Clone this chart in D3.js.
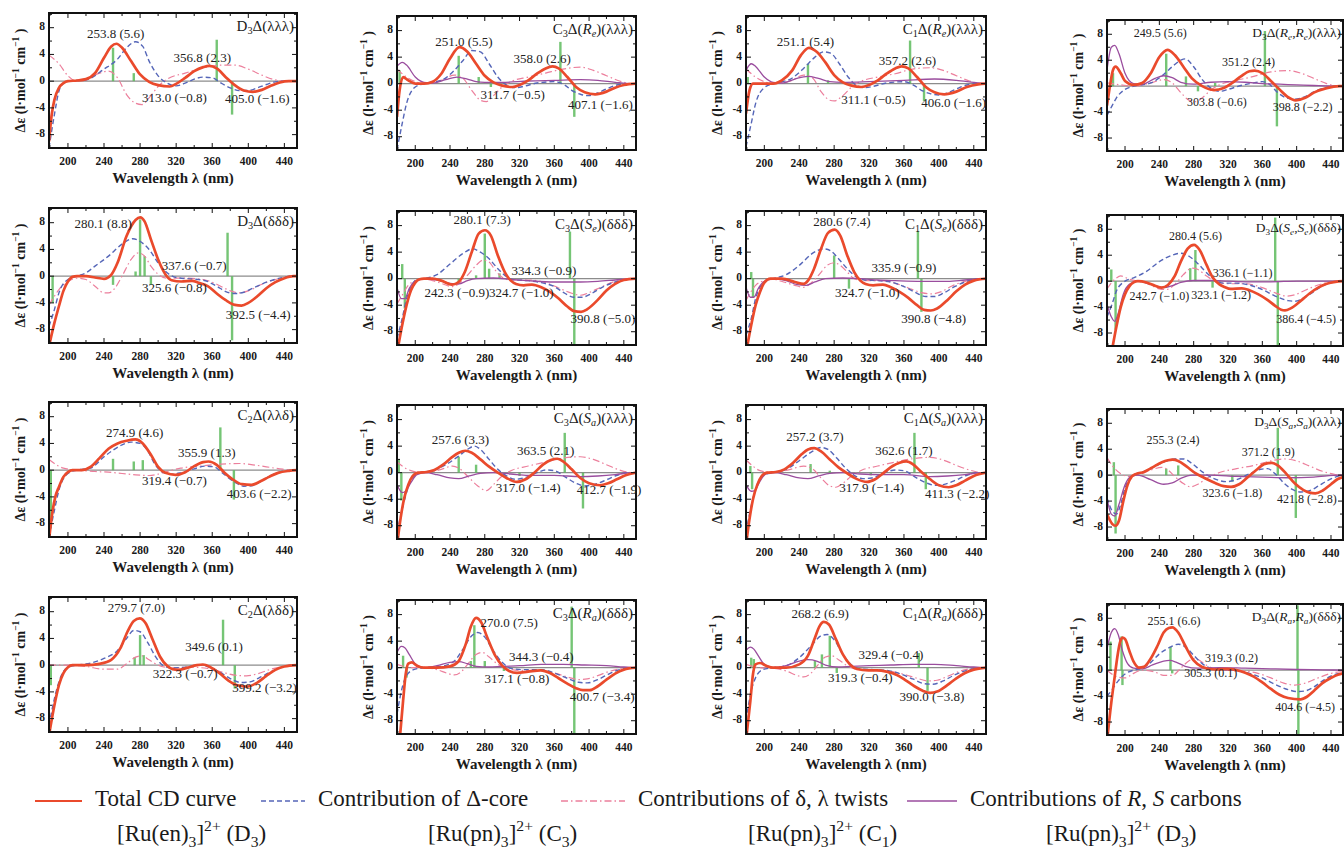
<!DOCTYPE html>
<html>
<head>
<meta charset="utf-8">
<script src="https://cdn.jsdelivr.net/npm/d3@7"></script>
<style>
  body { margin: 0; background: #fff; }
  svg { display: block; }
</style>
</head>
<body>
<div id="chart"></div>
<script>
(() => {
  // panels are read row by row, four columns per row
  const panelTitles = [
    'D_3Δ(λλλ)', 'C_3Δ(R_e)(λλλ)', 'C_1Δ(R_e)(λλλ)', 'D_3Δ(R_e,R_e)(λλλ)',
    'D_3Δ(δδδ)', 'C_3Δ(S_e)(δδδ)', 'C_1Δ(S_e)(δδδ)', 'D_3Δ(S_e,S_e)(δδδ)',
    'C_2Δ(λλδ)', 'C_3Δ(S_a)(λλλ)', 'C_1Δ(S_a)(λλλ)', 'D_3Δ(S_a,S_a)(λλλ)',
    'C_2Δ(λδδ)', 'C_3Δ(R_a)(δδδ)', 'C_1Δ(R_a)(δδδ)', 'D_3Δ(R_a,R_a)(δδδ)'
  ]

  // total CD curve, [wavelength nm, Δε]
  const totalCD = [
    [[179,-9],[182,-5],[185,-2.8],[190,-1],[195,-0.3],[200,0],[210,0.1],[220,0.3],[230,1.2],[240,3.5],[248,5.2],[253.8,5.6],[260,5.0],[270,3.0],[280,1.0],[290,-0.1],[300,-0.6],[313,-0.8],[320,-0.4],[330,0.5],[340,1.5],[350,2.1],[356.8,2.3],[365,1.9],[375,0.6],[385,-0.6],[395,-1.4],[405,-1.6],[415,-1.3],[425,-0.7],[435,-0.2],[445,0],[454,0]],
    [[179,-5],[182,-1],[186,1.0],[192,0.5],[200,0],[210,0],[220,0.3],[230,1.5],[240,3.8],[251,5.5],[260,4.8],[270,3.0],[280,1.2],[290,0.2],[300,-0.3],[311.7,-0.5],[320,-0.2],[330,0.5],[340,1.5],[350,2.3],[358,2.6],[365,2.3],[375,1.0],[385,-0.5],[395,-1.3],[407.1,-1.6],[420,-1.2],[430,-0.6],[440,-0.2],[454,0]],
    [[179,-4.5],[183,-1],[187,0],[200,0],[210,0],[220,0.5],[232,2.0],[242,4.3],[251.1,5.4],[260,4.8],[270,3.2],[280,1.3],[290,0.2],[300,-0.3],[311.1,-0.5],[320,-0.2],[330,0.5],[340,1.5],[350,2.3],[357.2,2.6],[365,2.3],[375,1.0],[385,-0.5],[395,-1.3],[406,-1.6],[420,-1.2],[432,-0.5],[445,-0.1],[454,0]],
    [[179,-3],[183,0.5],[186,2.5],[189,3.0],[195,2.0],[200,0.8],[210,0.2],[220,0.5],[230,2.0],[240,4.5],[249.5,5.6],[258,4.8],[268,3.0],[278,1.2],[290,0],[303.8,-0.6],[315,-0.3],[325,0.5],[335,1.5],[345,2.3],[351.2,2.4],[360,2.0],[370,0.8],[380,-0.5],[390,-1.7],[398.8,-2.2],[410,-1.8],[420,-1.0],[435,-0.3],[450,0],[454,0]],
    [[179,-10.5],[185,-7],[190,-4.5],[195,-2.2],[200,-0.8],[205,-0.1],[210,0],[220,0],[230,-0.2],[240,-0.4],[248,0.2],[255,2.0],[265,6.0],[275,8.4],[280.1,8.8],[285,8.2],[292,5.5],[300,2.5],[308,0.3],[315,-0.6],[325.6,-0.8],[337.6,-0.7],[345,-1.0],[355,-1.5],[365,-2.6],[375,-3.6],[385,-4.3],[392.5,-4.4],[400,-4.0],[410,-3.0],[420,-1.8],[430,-0.9],[440,-0.3],[450,0],[454,0]],
    [[180,-10.5],[185,-7],[190,-4],[195,-1.8],[200,-0.6],[205,-0.1],[210,0],[220,0],[230,-0.3],[242.3,-0.9],[250,-0.5],[257,1.0],[265,4.0],[273,6.8],[280.1,7.3],[287,6.5],[295,3.5],[303,1.0],[310,-0.3],[316,-0.8],[324.7,-1.0],[334.3,-0.9],[345,-1.3],[355,-2.0],[365,-3.0],[375,-4.2],[383,-4.9],[390.8,-5.0],[398,-4.6],[410,-3.2],[420,-1.8],[430,-0.8],[440,-0.2],[454,0]],
    [[180,-10.5],[185,-7],[190,-4],[195,-2],[200,-0.6],[207,0],[220,0],[235,-0.5],[245,-0.8],[250,-0.3],[257,1.5],[265,4.5],[273,6.9],[280.6,7.4],[287,6.5],[295,3.5],[303,1.0],[310,-0.3],[316,-0.8],[324.7,-1.0],[335.9,-0.9],[345,-1.3],[355,-2.0],[365,-2.9],[375,-4.0],[383,-4.7],[390.8,-4.8],[398,-4.5],[410,-3.2],[420,-1.9],[430,-0.9],[440,-0.3],[454,0]],
    [[185,-10.5],[190,-7],[195,-4],[200,-2],[205,-0.8],[210,-0.2],[215,0],[225,-0.2],[235,-0.7],[242.7,-1.0],[250,-0.6],[258,0.8],[265,3.0],[273,5.0],[280.4,5.6],[287,4.8],[295,2.5],[302,0.6],[310,-0.5],[316,-0.9],[323.1,-1.2],[336.1,-1.1],[345,-1.4],[355,-2.0],[365,-2.8],[375,-3.8],[382,-4.4],[386.4,-4.5],[393,-4.2],[405,-3.0],[415,-1.9],[425,-1.0],[435,-0.4],[445,-0.1],[454,0]],
    [[179,-10.5],[182,-7],[186,-4],[190,-2.5],[195,-1],[200,-0.3],[205,0],[215,0],[225,0.5],[235,1.8],[245,3.2],[255,4.0],[265,4.4],[274.9,4.6],[283,4.0],[292,2.3],[300,0.5],[308,-0.4],[319.4,-0.7],[330,-0.3],[340,0.6],[350,1.2],[355.9,1.3],[365,0.8],[373,-0.3],[383,-1.4],[393,-2.1],[403.6,-2.2],[413,-1.7],[423,-1.0],[433,-0.4],[445,-0.1],[454,0]],
    [[179,-11],[183,-7],[187,-4],[192,-1.8],[197,-0.5],[203,0],[213,0.1],[222,0.4],[232,1.2],[242,2.3],[250,3.0],[257.6,3.3],[265,3.0],[275,2.0],[285,0.9],[295,0],[305,-0.8],[317,-1.4],[327,-1.0],[337,0],[347,1.2],[356,1.9],[363.5,2.1],[370,1.7],[380,0.5],[390,-0.8],[400,-1.6],[412.7,-1.9],[422,-1.6],[432,-1.0],[442,-0.4],[454,0]],
    [[179,-11],[183,-7],[187,-4],[192,-1.8],[197,-0.5],[203,0],[213,0.1],[223,0.5],[233,1.5],[243,2.8],[250,3.5],[257.2,3.7],[265,3.2],[275,2.0],[285,0.8],[295,-0.1],[305,-0.9],[317.9,-1.4],[327,-1.0],[337,0],[347,1.0],[355,1.5],[362.6,1.7],[370,1.3],[380,0.1],[390,-1.0],[400,-1.9],[411.3,-2.2],[420,-1.9],[430,-1.2],[440,-0.5],[454,0]],
    [[179,-6],[185,-7.5],[189,-7.8],[193,-7],[198,-4],[203,-1.5],[208,-0.2],[213,0.2],[222,0.5],[232,1.2],[243,2.0],[250,2.3],[255.3,2.4],[262,2.2],[272,1.3],[282,0.3],[292,-0.4],[305,-1.2],[315,-1.7],[323.6,-1.8],[333,-1.4],[343,-0.3],[353,0.8],[362,1.7],[371.2,1.9],[378,1.5],[388,0.2],[398,-1.3],[408,-2.3],[415,-2.7],[421.8,-2.8],[430,-2.4],[440,-1.4],[448,-0.6],[454,-0.3]],
    [[179,-10.5],[185,-6],[190,-3],[195,-1.2],[200,-0.3],[205,0],[220,0],[235,0.2],[248,0.8],[258,2.5],[266,5.0],[273,6.6],[279.7,7.0],[286,6.3],[294,3.8],[302,1.3],[310,-0.1],[316,-0.6],[322.3,-0.7],[332,-0.4],[343,0],[349.6,0.1],[358,-0.3],[368,-1.2],[378,-2.3],[388,-3.0],[399.2,-3.2],[410,-2.6],[420,-1.6],[430,-0.7],[440,-0.2],[454,0]],
    [[182,-11],[186,-5],[189,-1],[192,0.6],[196,0.8],[202,0.3],[210,0],[225,0],[240,0.2],[250,1.0],[258,3.5],[264,6.2],[270,7.5],[276,6.8],[283,4.5],[292,1.8],[300,0.3],[308,-0.5],[317.1,-0.8],[330,-0.6],[344.3,-0.4],[355,-0.8],[365,-1.6],[375,-2.4],[385,-3.1],[393,-3.4],[400.7,-3.4],[410,-2.8],[420,-1.8],[430,-0.9],[440,-0.3],[454,0]],
    [[179,-11],[184,-5],[187,-1],[190,0.5],[195,0.7],[202,0.3],[210,0],[225,0],[240,0.5],[250,1.8],[258,4.5],[263,6.2],[268.2,6.9],[274,6.5],[282,4.3],[290,2.0],[298,0.5],[306,-0.2],[319.3,-0.4],[329.4,-0.4],[340,-0.6],[352,-1.1],[362,-1.9],[372,-2.8],[382,-3.5],[390,-3.8],[398,-3.6],[410,-2.6],[420,-1.6],[430,-0.8],[440,-0.3],[454,0]],
    [[179,-11],[184,-5],[188,-1],[191,2],[194,4.2],[197,5.0],[200,4.8],[205,3.0],[210,1.3],[216,0.4],[222,0.5],[230,1.8],[238,3.8],[245,5.8],[251,6.5],[255.1,6.6],[262,5.8],[270,3.8],[280,1.5],[290,0.5],[305.3,0.1],[319.3,0.2],[330,0],[340,-0.4],[350,-1.0],[360,-1.9],[370,-2.9],[380,-3.8],[390,-4.3],[404.6,-4.5],[412,-4.1],[420,-3.2],[430,-2.0],[440,-1.2],[448,-0.7],[454,-0.5]]
  ]

  // contribution of the Δ-core
  const coreCD = [
    [[179,-10],[185,-5],[190,-1.5],[195,-0.3],[200,0],[220,0.2],[240,1.8],[255,3.3],[265,5.0],[275,5.9],[283,5.2],[290,3.0],[300,0.8],[310,-0.3],[320,-0.7],[330,-0.3],[340,0.3],[350,0.6],[360,0.5],[370,-0.3],[380,-1.0],[390,-1.4],[400,-1.4],[410,-1.0],[420,-0.5],[430,-0.1],[440,0],[454,0]],
    [[179,-10],[185,-6],[190,-3],[200,-0.5],[210,0],[230,0.5],[245,2.0],[255,3.5],[265,5.0],[275,4.8],[285,3.0],[295,1.0],[305,-0.2],[315,-0.6],[325,-0.4],[340,0.1],[360,0.3],[372,-0.2],[380,-1.0],[390,-1.6],[400,-1.8],[410,-1.4],[420,-0.8],[432,-0.2],[445,0],[454,0]],
    [[179,-9.5],[185,-6],[190,-3],[200,-0.6],[210,0],[230,0.7],[245,2.3],[258,4.0],[268,4.8],[276,4.6],[286,3.0],[296,1.0],[305,-0.2],[315,-0.6],[325,-0.4],[340,0.1],[360,0.3],[372,-0.3],[380,-1.0],[390,-1.5],[400,-1.7],[410,-1.4],[420,-0.8],[432,-0.2],[445,0],[454,0]],
    [[179,-4.5],[185,-3],[190,-1.8],[200,-0.5],[210,0],[230,0.5],[245,1.8],[255,3.0],[265,4.0],[270,4.2],[280,3.0],[290,1.0],[300,-0.3],[310,-0.8],[320,-0.5],[335,0.1],[350,0.5],[360,0.7],[368,0.3],[378,-1.0],[388,-1.8],[398,-2.0],[410,-1.6],[420,-0.9],[432,-0.3],[445,0],[454,0]],
    [[179,-7.5],[185,-5],[190,-2.5],[200,-0.5],[210,0],[220,0.5],[230,1.5],[245,3.0],[260,4.8],[272,5.6],[280,5.2],[290,4.0],[300,2.0],[310,0.5],[320,-0.2],[335,-0.4],[350,-0.6],[365,-1.5],[375,-2.3],[385,-2.6],[395,-2.4],[405,-1.8],[420,-0.9],[435,-0.3],[450,0],[454,0]],
    [[179,-9],[185,-6],[190,-3],[195,-1.2],[200,-0.3],[210,0],[225,0.6],[240,2.2],[255,3.8],[266,4.5],[275,4.0],[285,3.0],[295,1.5],[305,0.3],[315,-0.2],[330,-0.3],[345,-0.6],[360,-1.2],[372,-2.2],[382,-2.8],[392,-2.8],[402,-2.3],[415,-1.3],[430,-0.5],[445,-0.1],[454,0]],
    [[179,-8.5],[185,-6],[190,-3],[200,-0.5],[210,0],[225,0.6],[240,2.0],[255,3.8],[268,4.5],[276,4.2],[285,3.0],[295,1.5],[305,0.3],[315,-0.2],[330,-0.3],[345,-0.5],[360,-1.2],[372,-2.0],[385,-2.7],[395,-2.7],[405,-2.2],[418,-1.2],[432,-0.4],[445,0],[454,0]],
    [[179,-5.5],[185,-3.5],[190,-1.5],[200,0],[210,0.5],[225,1.5],[240,3.0],[255,4.0],[265,4.3],[275,3.8],[285,2.7],[295,1.3],[305,0.2],[315,-0.3],[330,-0.3],[345,-0.6],[360,-1.3],[375,-2.3],[390,-3.0],[398,-3.1],[408,-2.6],[420,-1.6],[432,-0.6],[445,-0.1],[454,0]],
    [[179,-10],[185,-6],[190,-3],[200,-0.5],[210,0],[225,0.3],[240,2.0],[250,3.0],[260,3.8],[270,4.2],[280,4.0],[288,3.0],[296,1.0],[305,-0.3],[315,-0.6],[325,-0.4],[340,0.2],[352,0.6],[362,0.5],[372,-0.5],[385,-1.8],[395,-2.4],[405,-2.3],[415,-1.6],[425,-0.8],[437,-0.2],[450,0],[454,0]],
    [[179,-9],[185,-5.5],[190,-3],[195,-1.2],[205,0],[220,0.3],[235,1.2],[250,2.5],[260,3.5],[268,4.0],[275,3.5],[285,2.0],[295,0.5],[305,-0.5],[315,-1.0],[325,-0.8],[340,0],[350,0.4],[360,0.3],[372,-0.6],[385,-1.6],[395,-2.0],[405,-1.8],[418,-1.2],[430,-0.5],[445,0],[454,0]],
    [[179,-9],[185,-5],[190,-2.5],[200,-0.3],[210,0],[225,0.5],[240,1.8],[255,3.2],[265,3.8],[273,3.5],[283,2.2],[293,0.7],[303,-0.4],[313,-0.9],[323,-0.8],[338,0],[350,0.4],[360,0.3],[372,-0.6],[385,-1.5],[395,-1.9],[405,-1.8],[418,-1.2],[430,-0.5],[445,0],[454,0]],
    [[179,-3.5],[185,-5.5],[190,-6],[195,-4.5],[200,-2],[207,-0.3],[215,0.2],[230,1.0],[245,2.0],[258,2.5],[268,2.5],[278,1.8],[290,0.5],[303,-0.5],[318,-1.0],[330,-0.7],[345,0.2],[358,0.9],[366,1.0],[375,0.2],[385,-1.2],[395,-2.2],[405,-2.6],[415,-2.4],[425,-1.7],[435,-0.9],[445,-0.3],[454,0]],
    [[179,-9],[185,-5],[190,-2.5],[200,-0.3],[210,0],[225,0.3],[240,1.0],[255,2.2],[265,4.0],[273,5.2],[280,5.0],[288,3.5],[297,1.3],[305,0],[315,-0.4],[330,-0.3],[345,0],[355,-0.2],[368,-1.0],[380,-2.0],[392,-2.6],[402,-2.5],[412,-1.9],[425,-1.0],[438,-0.3],[450,0],[454,0]],
    [[179,-7],[185,-3],[190,-1.2],[198,-0.3],[210,0],[230,0.2],[245,1.0],[255,2.8],[265,4.8],[272,5.3],[280,4.6],[290,2.5],[300,0.8],[310,-0.1],[325,-0.3],[345,-0.3],[360,-0.8],[375,-1.6],[388,-2.2],[398,-2.3],[410,-1.8],[422,-1.0],[435,-0.3],[450,0],[454,0]],
    [[179,-8],[185,-3.5],[190,-1.5],[198,-0.3],[210,0],[225,0.3],[240,1.5],[255,3.5],[265,4.8],[272,5.0],[280,4.2],[290,2.0],[300,0.4],[310,-0.2],[325,-0.3],[340,-0.4],[355,-0.9],[370,-1.7],[383,-2.4],[393,-2.5],[405,-2.0],[418,-1.1],[432,-0.4],[448,0],[454,0]],
    [[179,-4],[185,-3],[190,-2.0],[195,-1.2],[200,-0.6],[210,0],[220,0.3],[230,1.2],[240,2.5],[252,3.5],[262,4.0],[270,3.6],[280,2.3],[290,1.0],[300,0.3],[315,0.1],[330,-0.1],[345,-0.5],[360,-1.2],[375,-2.2],[390,-3.0],[400,-3.3],[410,-3.2],[420,-2.6],[432,-1.5],[442,-0.8],[454,-0.4]]
  ]

  // contributions of the δ, λ twists
  const twistCD = [
    [[179,3.9],[190,2.6],[200,0.8],[210,0],[220,0.2],[235,1.2],[245,1.5],[255,0.5],[265,-2.0],[275,-3.3],[282,-3.5],[290,-2.5],[300,-0.8],[310,0.3],[330,1.2],[350,2.0],[370,2.4],[385,2.4],[400,1.8],[415,0.9],[430,0.2],[445,0],[454,0]],
    [[179,2.2],[190,1.0],[200,0.3],[210,0],[230,0.5],[245,1.3],[255,0.8],[265,-1.0],[275,-2.5],[282,-2.7],[290,-1.8],[300,-0.5],[310,0.3],[330,1.0],[350,1.6],[370,2.2],[390,2.5],[405,2.0],[420,1.2],[435,0.4],[450,0],[454,0]],
    [[179,2.2],[190,1.0],[200,0.3],[210,0],[230,0.4],[245,1.3],[255,0.9],[265,-1.2],[275,-2.5],[280,-2.6],[290,-1.8],[300,-0.5],[310,0.3],[330,1.0],[350,1.5],[370,2.2],[390,2.4],[405,2.0],[420,1.2],[435,0.4],[450,0],[454,0]],
    [[179,0.5],[195,0.2],[210,0],[230,0.5],[245,1.0],[255,0.5],[265,-1.0],[275,-2.2],[282,-2.4],[290,-1.8],[300,-0.6],[310,0.2],[330,0.9],[350,1.5],[370,2.2],[390,2.4],[405,2.0],[420,1.2],[435,0.4],[450,0],[454,0]],
    [[179,-4.3],[185,-3],[190,-2],[200,-0.8],[210,-0.3],[220,-0.5],[230,-1.5],[240,-2.5],[245,-2.5],[252,-1.8],[260,0],[270,2.5],[278,3.5],[285,3.0],[292,1.5],[300,0.3],[310,-0.3],[330,-0.3],[350,-0.5],[365,-1.2],[380,-2.2],[390,-2.5],[400,-2.2],[415,-1.2],[430,-0.5],[445,-0.1],[454,0]],
    [[179,-3.8],[185,-2.5],[192,-1],[200,-0.3],[210,-0.1],[220,-0.3],[232,-0.8],[242,-1.2],[250,-0.8],[260,0.5],[270,2.0],[278,2.8],[285,2.5],[292,1.3],[300,0.2],[310,-0.2],[330,-0.2],[350,-0.6],[365,-1.4],[380,-2.2],[390,-2.5],[400,-2.1],[415,-1.2],[430,-0.4],[445,0],[454,0]],
    [[179,-3.3],[190,-1],[200,-0.3],[210,-0.1],[222,-0.5],[235,-1.0],[245,-1.3],[252,-0.8],[262,0.5],[272,2.0],[280,2.4],[287,2.0],[295,1.0],[303,0],[315,-0.3],[335,-0.3],[350,-0.7],[365,-1.4],[380,-2.1],[392,-2.3],[402,-2.0],[415,-1.1],[430,-0.4],[445,0],[454,0]],
    [[179,-1.2],[190,0.5],[195,0.8],[205,0.3],[215,0],[225,-0.3],[240,-1.2],[248,-1.3],[258,-0.5],[268,1.0],[278,2.0],[285,1.8],[295,0.8],[305,0],[320,-0.4],[340,-0.4],[360,-1.0],[375,-1.8],[388,-2.3],[398,-2.1],[410,-1.4],[425,-0.6],[440,-0.1],[454,0]],
    [[179,1.6],[185,1.0],[195,0.3],[210,0],[230,-0.2],[245,-0.3],[260,-0.5],[275,-0.7],[290,-0.8],[300,-0.6],[310,-0.2],[325,0.3],[345,0.6],[370,0.9],[390,1.0],[405,0.8],[420,0.5],[435,0.2],[450,0],[454,0]],
    [[179,1.6],[185,1.0],[195,0.3],[210,0],[230,0.5],[243,1.0],[250,0.7],[260,-0.5],[272,-2.0],[282,-2.7],[290,-1.8],[300,-0.5],[312,0.4],[330,1.0],[350,1.6],[370,2.2],[390,2.4],[405,2.0],[420,1.2],[435,0.4],[450,0],[454,0]],
    [[179,1.9],[185,1.2],[195,0.3],[210,0],[230,0.5],[245,1.0],[255,0.6],[265,-0.8],[275,-2.0],[282,-2.2],[290,-1.6],[300,-0.5],[312,0.4],[330,1.0],[350,1.6],[370,2.1],[390,2.3],[405,1.9],[420,1.1],[435,0.4],[450,0],[454,0]],
    [[179,2.7],[185,1.5],[195,0.2],[205,-0.2],[215,0],[230,0.8],[243,1.2],[250,0.8],[258,-0.2],[268,-1.3],[276,-1.8],[285,-1.4],[295,-0.5],[310,0.4],[330,1.0],[350,1.5],[370,2.2],[385,2.5],[400,2.2],[415,1.4],[430,0.6],[445,0.1],[454,0]],
    [[179,0],[200,0],[220,-0.2],[240,-0.6],[255,-0.6],[265,0.2],[275,1.2],[282,1.4],[290,0.8],[300,0],[315,-0.4],[335,-0.3],[355,-0.5],[370,-1.0],[385,-1.5],[398,-1.6],[410,-1.3],[425,-0.6],[440,-0.2],[454,0]],
    [[179,0.5],[195,0],[210,0],[225,-0.3],[238,-0.9],[245,-1.1],[253,-0.6],[262,0.8],[270,2.0],[277,2.3],[285,1.6],[295,0.5],[305,-0.1],[320,-0.4],[340,-0.4],[360,-0.8],[375,-1.4],[388,-1.8],[398,-1.7],[410,-1.2],[425,-0.5],[440,-0.1],[454,0]],
    [[179,0.5],[195,0],[210,-0.1],[225,-0.5],[238,-1.2],[245,-1.4],[253,-0.9],[262,0.5],[270,1.6],[277,1.8],[285,1.2],[295,0.3],[305,-0.2],[320,-0.4],[340,-0.5],[360,-1.0],[375,-1.6],[388,-2.0],[398,-1.9],[410,-1.3],[425,-0.5],[440,-0.1],[454,0]],
    [[179,0],[190,-1],[200,-1.2],[210,-0.5],[220,0],[235,-0.3],[245,-0.8],[255,-0.8],[265,0.3],[275,1.5],[282,1.8],[290,1.2],[300,0.4],[315,0],[335,-0.1],[355,-0.5],[370,-1.2],[385,-2.0],[398,-2.3],[410,-2.0],[425,-1.2],[440,-0.5],[454,-0.2]]
  ]

  // contributions of the R, S carbons (none for [Ru(en)3]2+)
  const carbonCD = [
    [],
    [[179,2.6],[185,3.2],[190,2.8],[200,1.0],[210,0.2],[220,0.1],[235,0.6],[248,1.0],[260,0.7],[270,0.3],[280,0.2],[300,0.2],[330,0.4],[360,0.5],[390,0.6],[410,0.5],[430,0.2],[450,0],[454,0]],
    [[179,2.0],[185,3.0],[190,2.6],[200,1.0],[210,0.2],[220,0.1],[235,0.7],[250,1.1],[262,0.8],[275,0.3],[290,0.2],[320,0.3],[360,0.5],[395,0.7],[420,0.5],[440,0.2],[454,0]],
    [[179,2.5],[184,6.0],[188,6.3],[193,5.0],[200,2.0],[210,0.4],[220,0.3],[235,1.2],[245,1.6],[255,1.3],[265,0.6],[280,0.3],[300,0.6],[320,0.7],[340,0.6],[360,0.4],[380,0.3],[400,0.2],[420,0.1],[450,0],[454,0]],
    [],
    [[179,-1.3],[184,-3.0],[188,-3.0],[193,-1.5],[200,-0.4],[210,0],[225,-0.2],[240,-0.7],[250,-0.8],[260,-0.3],[270,0],[290,0.1],[310,-0.1],[330,-0.3],[360,-0.5],[390,-0.5],[410,-0.4],[430,-0.2],[450,0],[454,0]],
    [[179,-1.3],[184,-2.8],[188,-2.8],[193,-1.5],[200,-0.4],[210,0],[225,-0.3],[238,-0.9],[248,-1.0],[258,-0.5],[270,0],[290,0.1],[310,0],[330,-0.2],[350,-0.3],[380,-0.4],[410,-0.4],[430,-0.2],[450,0],[454,0]],
    [[179,-3.6],[184,-5.5],[188,-6.2],[192,-5.0],[198,-2.0],[205,-0.5],[215,0],[230,-0.5],[245,-1.0],[255,-0.7],[265,-0.2],[280,0.1],[300,0.1],[320,0],[345,-0.1],[370,-0.1],[400,0],[454,0]],
    [],
    [[179,-1.8],[185,-3.0],[189,-2.8],[195,-1.5],[202,-0.3],[212,0],[225,-0.3],[240,-0.8],[250,-0.9],[262,-0.5],[275,-0.1],[290,0],[310,-0.2],[330,-0.4],[360,-0.4],[390,-0.6],[410,-0.5],[430,-0.3],[450,0],[454,0]],
    [[179,-1.8],[185,-2.8],[189,-2.7],[195,-1.3],[202,-0.2],[212,0],[225,-0.3],[240,-0.8],[250,-0.9],[262,-0.5],[275,-0.1],[290,0],[310,-0.2],[330,-0.3],[360,-0.3],[390,-0.6],[410,-0.5],[430,-0.3],[450,0],[454,0]],
    [[179,-3.6],[184,-6.0],[188,-6.3],[193,-4.5],[200,-1.5],[207,-0.2],[215,0],[230,-0.7],[245,-1.4],[255,-1.2],[265,-0.5],[278,0],[300,0],[330,-0.2],[360,-0.3],[390,-0.4],[420,-0.3],[450,0],[454,0]],
    [],
    [[179,2.3],[184,3.2],[188,3.0],[193,2.0],[200,0.6],[210,0],[225,0.3],[240,0.8],[250,0.9],[260,0.6],[270,0.2],[285,0.1],[300,0.2],[320,0.3],[345,0.5],[370,0.5],[395,0.4],[420,0.3],[440,0.1],[454,0]],
    [[179,2.6],[184,3.1],[188,2.8],[193,1.8],[200,0.5],[210,0],[225,0.3],[240,1.0],[250,1.2],[260,1.0],[270,0.4],[285,0.1],[300,0.2],[320,0.3],[345,0.4],[370,0.5],[395,0.5],[420,0.3],[440,0.1],[454,0]],
    [[179,3.3],[184,5.8],[188,6.4],[192,5.5],[197,3.0],[203,1.0],[210,0.3],[220,0.2],[232,0.8],[245,1.4],[252,1.5],[260,1.2],[270,0.6],[285,0.3],[310,0.4],[340,0.3],[370,0.2],[400,0.1],[430,0.05],[454,0]]
  ]

  // computed rotatory strengths drawn as sticks, [wavelength nm, height]
  const sticks = [
    [[250,5.0],[273,1.2],[365,6.2],[382,-5.0]],
    [[182,2.0],[250,4.2],[273,1.0],[287,-0.5],[367,6.3],[383,-5.0]],
    [[181,1.0],[250,3.0],[273,0.5],[367,6.5],[383,-2.6]],
    [[186,2.0],[248,5.0],[271,1.5],[285,-0.8],[305,0.5],[363,8.5],[377,-6.2]],
    [[183,-4.0],[250,-1.3],[275,0.7],[280,8.5],[285,3.0],[292,-1.3],[377,6.5],[382,-9.6]],
    [[185,2.2],[188,-4.5],[250,-0.5],[270,0.5],[280,6.8],[285,1.5],[297,0.8],[378,7.1],[383,-10]],
    [[185,1.0],[187,-2.8],[280,3.5],[297,-1.5],[376,7.2],[380,-5.0]],
    [[184,1.8],[189,-7.5],[276,2.0],[282,4.8],[302,-1.0],[375,9.8],[378,-10]],
    [[181,-8.6],[250,1.7],[273,1.3],[283,1.5],[369,6.4],[384,-4.4]],
    [[181,2.0],[184,-4.2],[250,2.4],[270,1.2],[320,-0.5],[372,6.0],[393,-5.4]],
    [[184,1.0],[186,-2.5],[253,1.3],[275,0.3],[322,-0.4],[372,6.0],[385,-2.5]],
    [[187,2.0],[189,-9.0],[248,1.0],[262,1.5],[325,-1.0],[378,7.3],[399,-6.6]],
    [[181,-3.0],[274,1.2],[280,4.5],[284,1.5],[372,6.8],[385,-3.5]],
    [[186,1.8],[190,-1.5],[264,1.0],[268,6.4],[280,1.0],[302,-0.5],[380,9.2],[383,-10]],
    [[185,1.5],[188,1.3],[258,1.0],[266,2.0],[275,4.8],[283,-0.8],[377,2.2],[387,-3.5]],
    [[183,4.4],[196,5.2],[197,-2.3],[253,3.6],[255,-0.5],[401,10],[402,-10]]
  ]

  // peak annotations, [text, wavelength at label centre, Δε at label centre]
  const peakLabels = [
    [['253.8 (5.6)',253,6.9],['356.8 (2.3)',349,3.3],['313.0 (−0.8)',318,-2.6],['405.0 (−1.6)',410,-2.8]],
    [['251.0 (5.5)',256,6.2],['358.0 (2.6)',346,3.5],['311.7 (−0.5)',312,-1.8],['407.1 (−1.6)',413,-3.3]],
    [['251.1 (5.4)',247,6.2],['357.2 (2.6)',364,3.3],['311.1 (−0.5)',325,-2.6],['406.0 (−1.6)',417,-3.0]],
    [['249.5 (5.6)',241,8.0],['351.2 (2.4)',344,3.5],['303.8 (−0.6)',307,-2.6],['398.8 (−2.2)',407,-3.4]],
    [['280.1 (8.8)',239,7.7],['337.6 (−0.7)',340,1.35],['325.6 (−0.8)',318,-1.9],['392.5 (−4.4)',411,-5.9]],
    [['280.1 (7.3)',277,8.7],['334.3 (−0.9)',348,1.0],['242.3 (−0.9)',248,-2.3],['324.7 (−1.0)',322,-2.3],['390.8 (−5.0)',416,-6.3]],
    [['280.6 (7.4)',289,8.4],['335.9 (−0.9)',360,1.4],['324.7 (−1.0)',318,-2.3],['390.8 (−4.8)',394,-6.3]],
    [['280.4 (5.6)',282,6.8],['336.1 (−1.1)',337,1.1],['242.7 (−1.0)',240,-2.5],['323.1 (−1.2)',312,-2.4],['386.4 (−4.5)',411,-6.0]],
    [['274.9 (4.6)',274,5.4],['355.9 (1.3)',354,2.4],['319.4 (−0.7)',318,-1.7],['403.6 (−2.2)',412,-3.7]],
    [['257.6 (3.3)',252,4.7],['363.5 (2.1)',350,3.1],['317.0 (−1.4)',330,-2.5],['412.7 (−1.9)',423,-2.8]],
    [['257.2 (3.7)',258,5.2],['362.6 (1.7)',360,3.1],['317.9 (−1.4)',323,-2.5],['411.3 (−2.2)',421,-3.4]],
    [['255.3 (2.4)',256,5.2],['371.2 (1.9)',367,3.4],['323.6 (−1.8)',325,-2.9],['421.8 (−2.8)',412,-3.8]],
    [['279.7 (7.0)',276,8.4],['349.6 (0.1)',362,2.6],['322.3 (−0.7)',330,-1.5],['399.2 (−3.2)',418,-3.6]],
    [['270.0 (7.5)',308,6.6],['344.3 (−0.4)',345,1.4],['317.1 (−0.8)',317,-1.8],['400.7 (−3.4)',415,-4.6]],
    [['268.2 (6.9)',264,7.9],['329.4 (−0.4)',345,1.7],['319.3 (−0.4)',310,-1.7],['390.0 (−3.8)',392,-4.6]],
    [['255.1 (6.6)',257,7.4],['319.3 (0.2)',324,1.65],['305.3 (0.1)',300,-0.7],['404.6 (−4.5)',410,-5.9]]
  ]

  const xTicks = [200, 240, 280, 320, 360, 400, 440]
  const xMinorTicks = [180, 220, 260, 300, 340, 380, 420]
  const yTicks = [-8, -4, 0, 4, 8]
  const yMinorTicks = [-10, -6, -2, 2, 6, 10]

  const legendNames = ['Total CD curve', 'Contribution of Δ-core', 'Contributions of δ, λ twists', 'Contributions of *R*, *S* carbons']
  const complexNames = ['[Ru(en)_3]^2+ (D_3)', '[Ru(pn)_3]^2+ (C_3)', '[Ru(pn)_3]^2+ (C_1)', '[Ru(pn)_3]^2+ (D_3)']

  // layout
  const WIDTH = 1344
  const HEIGHT = 857
  const FONT = "'Liberation Serif', 'DejaVu Serif', 'Times New Roman', serif"
  const COL_X = [[49, 297], [397, 636], [746, 986], [1107, 1343]]
  const ROW_Y = [13, 208, 402, 597]
  const COL_DY = [0, 3, 3, 7]
  const COL_H = [135, 134, 134, 131]
  const X_DOMAIN = [179, 454]
  const Y_DOMAIN = [-10, 10.2]

  const STYLES = {
    total: { stroke: '#ea4a2c', width: 2.7, dash: null },
    core: { stroke: '#5566b8', width: 1.4, dash: '5,3' },
    twist: { stroke: '#ec7f9c', width: 1.2, dash: '7,3,1.5,3' },
    carbon: { stroke: '#9a4d9e', width: 1.3, dash: null }
  }
  const STICK_COLOR = '#5dbb5d'

  const svg = d3.select('#chart')
    .append('svg')
    .attr('width', WIDTH)
    .attr('height', HEIGHT)
    .attr('font-family', FONT)
    .style('font-family', FONT)

  // small markup: _x subscript char, ^.. superscript up to a space, *..* italic,
  // R or S followed by a subscript is italic (configuration label)
  function richText(sel, str, size) {
    const parts = []
    let i = 0
    let italic = false
    while (i < str.length) {
      const c = str[i]
      if (c === '*') { italic = !italic; i++; continue }
      if (c === '_') {
        parts.push({ t: str[i + 1], mode: 'sub', it: italic || /[ea]/.test(str[i + 1]) })
        i += 2
        continue
      }
      if (c === '^') {
        let j = i + 1
        while (j < str.length && str[j] !== ' ') j++
        parts.push({ t: str.slice(i + 1, j), mode: 'sup', it: false })
        i = j
        continue
      }
      const cfg = /[RS]/.test(c) && str[i + 1] === '_'
      parts.push({ t: c, mode: '', it: italic || cfg })
      i++
    }
    let shift = 0
    parts.forEach(p => {
      const target = p.mode === 'sub' ? size * 0.3 : p.mode === 'sup' ? -size * 0.38 : 0
      sel.append('tspan')
        .attr('dy', target - shift)
        .attr('font-size', p.mode ? size * 0.68 : size)
        .attr('font-style', p.it ? 'italic' : 'normal')
        .text(p.t)
      shift = target
    })
  }

  function drawPanel(idx) {
    const col = idx % 4
    const row = Math.floor(idx / 4)
    const [x0, x1] = COL_X[col]
    const y0 = ROW_Y[row] + COL_DY[col]
    const y1 = y0 + COL_H[col]

    const x = d3.scaleLinear().domain(X_DOMAIN).range([x0, x1])
    const y = d3.scaleLinear().domain(Y_DOMAIN).range([y1, y0])

    const g = svg.append('g').classed('panel', true)

    const clipId = `clip-${idx}`
    g.append('clipPath').attr('id', clipId)
      .append('rect')
      .attr('x', x0).attr('y', y0)
      .attr('width', x1 - x0).attr('height', y1 - y0)

    const plot = g.append('g').attr('clip-path', `url(#${clipId})`)

    // zero line
    plot.append('line')
      .attr('x1', x0).attr('x2', x1)
      .attr('y1', y(0)).attr('y2', y(0))
      .attr('stroke', '#8c8c8c')
      .attr('stroke-width', 1.1)

    plot.selectAll('line.stick')
      .data(sticks[idx])
      .join('line')
      .classed('stick', true)
      .attr('x1', d => x(d[0])).attr('x2', d => x(d[0]))
      .attr('y1', y(0)).attr('y2', d => y(d[1]))
      .attr('stroke', STICK_COLOR)
      .attr('stroke-width', 2.4)
      .attr('opacity', 0.85)

    const lineGen = d3.line()
      .x(d => x(d[0]))
      .y(d => y(d[1]))
      .curve(d3.curveMonotoneX)

    const series = [
      ['twist', twistCD[idx]],
      ['core', coreCD[idx]],
      ['carbon', carbonCD[idx]],
      ['total', totalCD[idx]]
    ]
    series.forEach(([key, pts]) => {
      if (!pts.length) return
      const st = STYLES[key]
      plot.append('path')
        .datum(pts)
        .attr('d', lineGen)
        .attr('fill', 'none')
        .attr('stroke', st.stroke)
        .attr('stroke-width', st.width)
        .attr('stroke-dasharray', st.dash)
        .attr('stroke-linejoin', 'round')
    })

    // ticks on all four sides, pointing inward
    const tickG = g.append('g').attr('stroke', '#111').attr('stroke-width', 1)
    const xt = xTicks.map(v => [v, 5]).concat(xMinorTicks.map(v => [v, 3]))
    xt.forEach(([v, len]) => {
      tickG.append('line').attr('x1', x(v)).attr('x2', x(v)).attr('y1', y1).attr('y2', y1 - len)
      tickG.append('line').attr('x1', x(v)).attr('x2', x(v)).attr('y1', y0).attr('y2', y0 + len)
    })
    const yt = yTicks.map(v => [v, 5]).concat(yMinorTicks.map(v => [v, 3]))
    yt.forEach(([v, len]) => {
      tickG.append('line').attr('x1', x0).attr('x2', x0 + len).attr('y1', y(v)).attr('y2', y(v))
      tickG.append('line').attr('x1', x1).attr('x2', x1 - len).attr('y1', y(v)).attr('y2', y(v))
    })

    g.append('rect')
      .attr('x', x0).attr('y', y0)
      .attr('width', x1 - x0).attr('height', y1 - y0)
      .attr('fill', 'none')
      .attr('stroke', '#111')
      .attr('stroke-width', 2)

    g.selectAll('text.xtick')
      .data(xTicks)
      .join('text')
      .classed('xtick', true)
      .attr('x', d => x(d))
      .attr('y', y1 + 14)
      .attr('text-anchor', 'middle')
      .attr('dominant-baseline', 'middle')
      .attr('font-size', 11.5)
      .attr('font-weight', 'bold')
      .attr('fill', '#1a1a1a')
      .text(d => d)

    g.selectAll('text.ytick')
      .data(yTicks)
      .join('text')
      .classed('ytick', true)
      .attr('x', x0 - 4)
      .attr('y', d => y(d))
      .attr('text-anchor', 'end')
      .attr('dominant-baseline', 'middle')
      .attr('font-size', 11.5)
      .attr('font-weight', 'bold')
      .attr('fill', '#1a1a1a')
      .text(d => d)

    g.append('text')
      .attr('x', (x0 + x1) / 2)
      .attr('y', y1 + 32)
      .attr('text-anchor', 'middle')
      .attr('dominant-baseline', 'middle')
      .attr('font-size', 15)
      .attr('font-weight', 'bold')
      .attr('fill', '#1a1a1a')
      .text('Wavelength  λ (nm)')

    const yl = g.append('text')
      .attr('transform', `translate(${x0 - 27}, ${(y0 + y1) / 2}) rotate(-90)`)
      .attr('text-anchor', 'middle')
      .attr('dominant-baseline', 'middle')
      .attr('font-weight', 'bold')
      .attr('fill', '#1a1a1a')
    richText(yl, 'Δε (l·mol^−1 cm^−1 )', 14)

    const title = g.append('text')
      .attr('x', col === 3 ? x1 - 2 : x1 - 3)
      .attr('y', y(8))
      .attr('text-anchor', 'end')
      .attr('dominant-baseline', 'middle')
      .attr('fill', '#1a1a1a')
    richText(title, panelTitles[idx], col === 3 ? 13.5 : 15)

    g.selectAll('text.peak')
      .data(peakLabels[idx])
      .join('text')
      .classed('peak', true)
      .attr('x', d => x(d[1]))
      .attr('y', d => y(d[2]))
      .attr('text-anchor', 'middle')
      .attr('dominant-baseline', 'middle')
      .attr('font-size', col === 3 ? 12 : 13)
      .attr('fill', '#222')
      .text(d => d[0])
  }

  d3.range(16).forEach(drawPanel)

  // legend
  const LEGEND_Y = 801
  const legendLayout = [
    { key: 'total', x: 35, w: 47 },
    { key: 'core', x: 261, w: 44 },
    { key: 'twist', x: 561, w: 64 },
    { key: 'carbon', x: 907, w: 50 }
  ]
  const legend = svg.append('g').classed('legend', true)
  legendLayout.forEach((item, i) => {
    const st = STYLES[item.key]
    legend.append('line')
      .attr('x1', item.x).attr('x2', item.x + item.w)
      .attr('y1', LEGEND_Y).attr('y2', LEGEND_Y)
      .attr('stroke', st.stroke)
      .attr('stroke-width', item.key === 'total' ? 2 : 1.6)
      .attr('stroke-dasharray', st.dash)
    const t = legend.append('text')
      .attr('x', item.x + item.w + 13)
      .attr('y', LEGEND_Y)
      .attr('dominant-baseline', 'middle')
      .attr('fill', '#1a1a1a')
    richText(t, legendNames[i], 23)
  })

  const complexX = [117, 428, 748, 1046]
  const labels = svg.append('g').classed('complex-labels', true)
  complexNames.forEach((name, i) => {
    const t = labels.append('text')
      .attr('x', complexX[i])
      .attr('y', 836)
      .attr('dominant-baseline', 'middle')
      .attr('fill', '#1a1a1a')
    richText(t, name, 23)
  })
})()
</script>
</body>
</html>
